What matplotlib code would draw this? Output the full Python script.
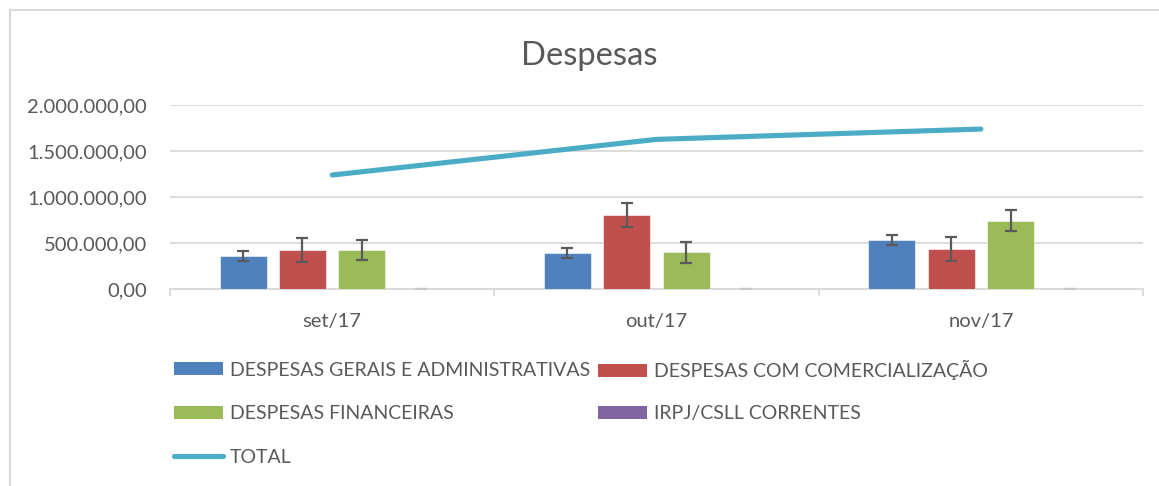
import matplotlib
matplotlib.use("Agg")
import matplotlib.pyplot as plt
import numpy as np
from matplotlib.lines import Line2D
from matplotlib.patches import Patch

categories = ["set/17", "out/17", "nov/17"]
gerais = [364000, 390000, 538000]
comercial = [426000, 809000, 440000]
financeiras = [426000, 401000, 744000]
irpj = [0, 0, 0]
total = [1240000, 1627000, 1739000]
err_gerais = [56000, 54000, 56000]
err_comercial = [128000, 128000, 130000]
err_financeiras = [113000, 112000, 114000]
err_irpj = [0, 0, 0]
yticks = [0, 500000, 1000000, 1500000, 2000000]
ytick_labels = ["0,00", "500.000,00", "1.000.000,00", "1.500.000,00", "2.000.000,00"]
series_names = ["DESPESAS GERAIS E ADMINISTRATIVAS", "DESPESAS COM COMERCIALIZAÇÃO",
                "DESPESAS FINANCEIRAS", "IRPJ/CSLL CORRENTES", "TOTAL"]

plt.rcParams['font.family'] = ['Lato', 'DejaVu Sans']
TXT = '#595959'
GRID = '#D9D9D9'
colors = ['#4F81BD', '#C0504D', '#9BBB59', '#8064A2']
err_colors = ['#5A5A5A', '#5A5A5A', '#5A5A5A', '#C8C8C8']
line_color = '#4BACC6'

W, H = 1159, 486
fig = plt.figure(figsize=(W / 100, H / 100), dpi=100)
ax = fig.add_axes([170 / W, 1 - 289.3 / H, (1143 - 170) / W, (289.3 - 105) / H])

x = np.arange(len(categories))
width = 0.145
step = 0.183
bar_series = [gerais, comercial, financeiras, irpj]
err_series = [err_gerais, err_comercial, err_financeiras, err_irpj]
offsets = [-1.5 * step, -0.5 * step, 0.5 * step, 1.5 * step]
for vals, errs, c, ec, off in zip(bar_series, err_series, colors, err_colors, offsets):
    ax.bar(x + off, vals, width, color=c, edgecolor='white', linewidth=0.4, zorder=3)
    ax.errorbar(x + off, vals, yerr=errs, fmt='none', ecolor=ec,
                elinewidth=1.6, capsize=4.3, capthick=1.6, zorder=4)

ax.plot(x, total, color=line_color, lw=3.7, solid_capstyle='round', zorder=5)

ax.set_xlim(-0.5, 2.5)
ax.set_ylim(0, 2000000)
ax.set_yticks(yticks)
ax.set_yticklabels(ytick_labels)
ax.yaxis.grid(True, color=GRID, lw=1.3)
ax.set_axisbelow(True)
for s in ['top', 'right', 'left']:
    ax.spines[s].set_visible(False)
ax.spines['bottom'].set_color(GRID)
ax.spines['bottom'].set_linewidth(1.3)
ax.set_xticks(x)
ax.set_xticklabels(categories)
ax.set_xticks([-0.5, 0.5, 1.5, 2.5], minor=True)
ax.tick_params(axis='x', which='major', length=0, pad=17, labelsize=14.5, labelcolor=TXT)
ax.tick_params(axis='x', which='minor', length=5, width=1.3, color=GRID, direction='out')
ax.tick_params(axis='y', length=0, pad=16.5, labelsize=14.5, labelcolor=TXT)

fig.text(589.5 / W, 1 - 65 / H, "Despesas", ha='center', va='baseline',
         fontsize=23.6, color=TXT)

h = [Patch(facecolor=c, edgecolor='none') for c in colors]
h_line = Line2D([], [], color=line_color, lw=3.7, solid_capstyle='round')
handles = [h[0], h[1], h[2], h[3], h_line]
# legend entry anchors (pixel positions: handle left edge, row center)
entry_pos = [(174, 370), (598, 370), (174, 413.5), (598, 413.5), (174, 457)]
common = dict(frameon=False, fontsize=14, labelcolor=TXT, handlelength=2.53,
              handleheight=0.67, handletextpad=0.36,
              borderpad=0, borderaxespad=0, loc='center left')
for hd, name, (px, py) in zip(handles, series_names, entry_pos):
    fig.legend([hd], [name], bbox_to_anchor=(px / W, 1 - py / H), **common)

# chart border (left and top visible)
fig.add_artist(Line2D([9.5 / W, 9.5 / W], [0, 1 - 10.5 / H], transform=fig.transFigure,
                      color=GRID, lw=1.5))
fig.add_artist(Line2D([9.5 / W, 1], [1 - 10.5 / H, 1 - 10.5 / H], transform=fig.transFigure,
                      color=GRID, lw=1.5))

fig.savefig("out.png", dpi=100)
